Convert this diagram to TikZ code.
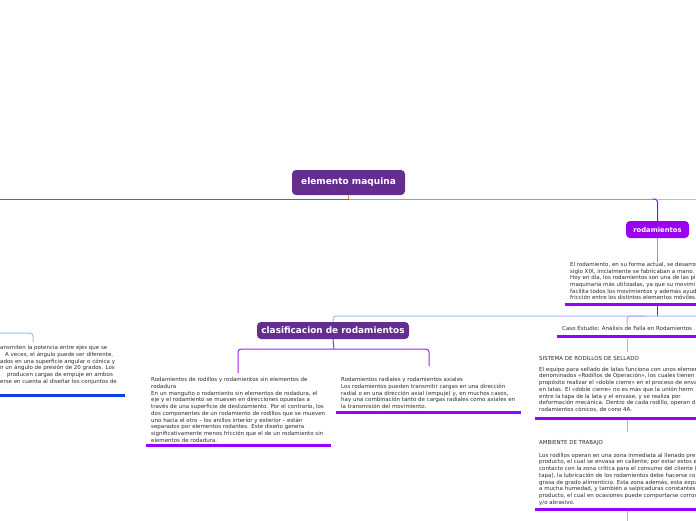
\documentclass[tikz,border=0pt]{standalone}
\usepackage{fontspec}
\setmainfont{DejaVu Sans}
\definecolor{mainP}{HTML}{662D91}
\definecolor{brightP}{HTML}{9C00F3}
\definecolor{lineP}{HTML}{A020F0}
\definecolor{ulP}{HTML}{9900FF}
\definecolor{lightP}{HTML}{D0A0F5}
\definecolor{trunkBlue}{HTML}{3A66E6}
\definecolor{lightBlue}{HTML}{A4BAF0}
\definecolor{salmon}{HTML}{EA8472}
\definecolor{orangeL}{HTML}{F7B45C}
\definecolor{orangeS}{HTML}{F08A24}
\definecolor{darkBlue}{HTML}{2244DD}
\definecolor{ulBlue}{HTML}{0F3FE6}
\definecolor{textgray}{HTML}{2B2B2B}
\begin{document}
\begin{tikzpicture}[x=1pt,y=-1pt,
  titlebox/.style={rounded corners=4pt, fill=mainP, text=white, inner sep=0pt},
  txt/.style={anchor=north west, inner sep=0pt, align=left, text=textgray, font=\fontsize{5.5}{6.7}\selectfont},
  uline/.style={line width=3pt, draw=ulP},
  conn/.style={line width=1pt}]
\useasboundingbox (0,0) rectangle (696,520);
\clip (0,0) rectangle (696,520);

% title nodes
\node[titlebox, minimum width=113pt, minimum height=25pt, font=\bfseries\fontsize{9}{10}\selectfont] (main) at (348.5,182.5) {elemento maquina};
\node[titlebox, fill=brightP, minimum width=63pt, minimum height=17pt, font=\bfseries\fontsize{6.8}{8}\selectfont] (rod) at (657.5,229.5) {rodamientos};
\node[titlebox, minimum width=152pt, minimum height=17pt, font=\bfseries\fontsize{8.9}{10}\selectfont] (clas) at (333,330.5) {clasificacion de rodamientos};

% text nodes
\node[txt] (rodtxt) at (570,262) {El rodamiento, en su forma actual, se desarro\\
siglo XIX, inicialmente se fabricaban a mano.\\
Hoy en día, los rodamientos son una de las pi\\
maquinaria más utilizadas, ya que su movimi\\
facilita todos los movimientos y además ayud\\
fricción entre los distintos elementos móviles.};

\node[txt] (caso) at (562,326) {Caso Estudio: Análisis de Falla en Rodamientos};

\node[txt] (sist) at (539,356) {SISTEMA DE RODILLOS DE SELLADO\\[4.3pt]
El equipo para sellado de latas funciona con unos elemen\\
denominados «Rodillos de Operación», los cuales tienen\\
propósito realizar el «doble cierre» en el proceso de enva\\
en latas. El «doble cierre» no es más que la unión herm\\
entre la tapa de la lata y el envase, y se realiza por\\
deformación mecánica. Dentro de cada rodillo, operan d\\
rodamientos cónicos, de cono 4A.};

\node[txt] (amb) at (539,440) {AMBIENTE DE TRABAJO\\[6.3pt]
Los rodillos operan en una zona inmediata al llenado pre\\
producto, el cual se envasa en caliente; por estar estos e\\
contacto con la zona crítica para el consumo del cliente (\\
tapa), la lubricación de los rodamientos debe hacerse co\\
grasa de grado alimenticio. Esta zona además, esta expu\\
a mucha humedad, y también a salpicaduras constantes\\
producto, el cual en ocasiones puede comportarse corros\\
y/o abrasivo.};

\node[txt] (blka) at (151,377.5) {Rodamientos de rodillos y rodamientos sin elementos de\\
rodadura\\
En un manguito o rodamiento sin elementos de rodadura, el\\
eje y el rodamiento se mueven en direcciones opuestas a\\
través de una superficie de deslizamiento. Por el contrario, los\\
dos componentes de un rodamiento de rodillos que se mueven\\
uno hacia el otro – los anillos interior y exterior – están\\
separados por elementos rodantes. Este diseño genera\\
significativamente menos fricción que el de un rodamiento sin\\
elementos de rodadura.};

\node[txt] (blkb) at (341,377.5) {Rodamientos radiales y rodamientos axiales\\
Los rodamientos pueden transmitir cargas en una dirección\\
radial o en una dirección axial (empuje) y, en muchos casos,\\
hay una combinación tanto de cargas radiales como axiales en\\
la transmisión del movimiento.};

\node[txt] (left) at (0,345.5) {ansmiten la potencia entre ejes que se\\
\hspace*{5pt}A veces, el ángulo puede ser diferente.\\
ados en una superficie angular o cónica y\\
n un ángulo de presión de 20 grados. Los\\
\hspace*{7pt}producen cargas de empuje en ambos\\
erse en cuenta al diseñar los conjuntos de};

% coordinates
\coordinate (trunk) at (348,199);
\coordinate (leftend) at (0,199);
\coordinate (rightend) at (700,199);
\coordinate (rodfork) at (652,199);
\coordinate (hbar) at (700,316);
\coordinate (casofork) at (645,316);
\coordinate (clasfork) at (334,349);
\coordinate (blkaTop) at (238,373);
\coordinate (blkbTop) at (429,366);

% trunk connectors
\draw[conn, draw=orangeS] (main.south) -- (main.south |- trunk);
\draw[conn, draw=trunkBlue] (main.south |- trunk) -- (leftend);
\draw[conn, draw=salmon] (main.south |- trunk) -- (rodfork);
\draw[conn, draw=orangeL] (rod.north |- trunk) -- (rightend);
\draw[conn, draw=brightP, rounded corners=3pt] (rodfork) -| (rod.north);

% rodamientos
\draw[conn, draw=lightP!70!lineP] (rod.south) -- (rod.south |- rodtxt.north);
\draw[uline] (565,304) coordinate (rodulL) -- (700,304);
\draw[conn, draw=darkBlue] (rod.south |- rodulL) -- (rod.south |- hbar);
\draw[conn, draw=lightBlue, rounded corners=3pt] (hbar) -| (clas.north);
\draw[conn, draw=lightP, rounded corners=3pt] (casofork) -| (627,325);

% caso study chain
\draw[uline] (557,336) -- (700,336);
\draw[conn, draw=lightP] (627,337.5) -- (627,352);
\draw[uline] (535,418) -- (700,418);
\draw[conn, draw=lightP] (627,419.5) -- (627,432);
\draw[uline] (535,509) -- (700,509);
\draw[conn, draw=lightP] (627,510.5) -- (627,522);

% clasificacion branches
\draw[conn, draw=lineP] (clas.south) -- (clasfork);
\draw[conn, draw=lineP, rounded corners=3pt] (blkaTop) |- (clasfork) -| (blkbTop);
\draw[uline] (146,445) -- (331,445);
\draw[uline] (336,412) -- (521,412);

% left partial branch
\draw[conn, draw=lightBlue, rounded corners=3pt] (-5,333) -| (33,342);
\draw[line width=3pt, draw=ulBlue] (-5,395) -- (125,395);
\end{tikzpicture}
\end{document}
